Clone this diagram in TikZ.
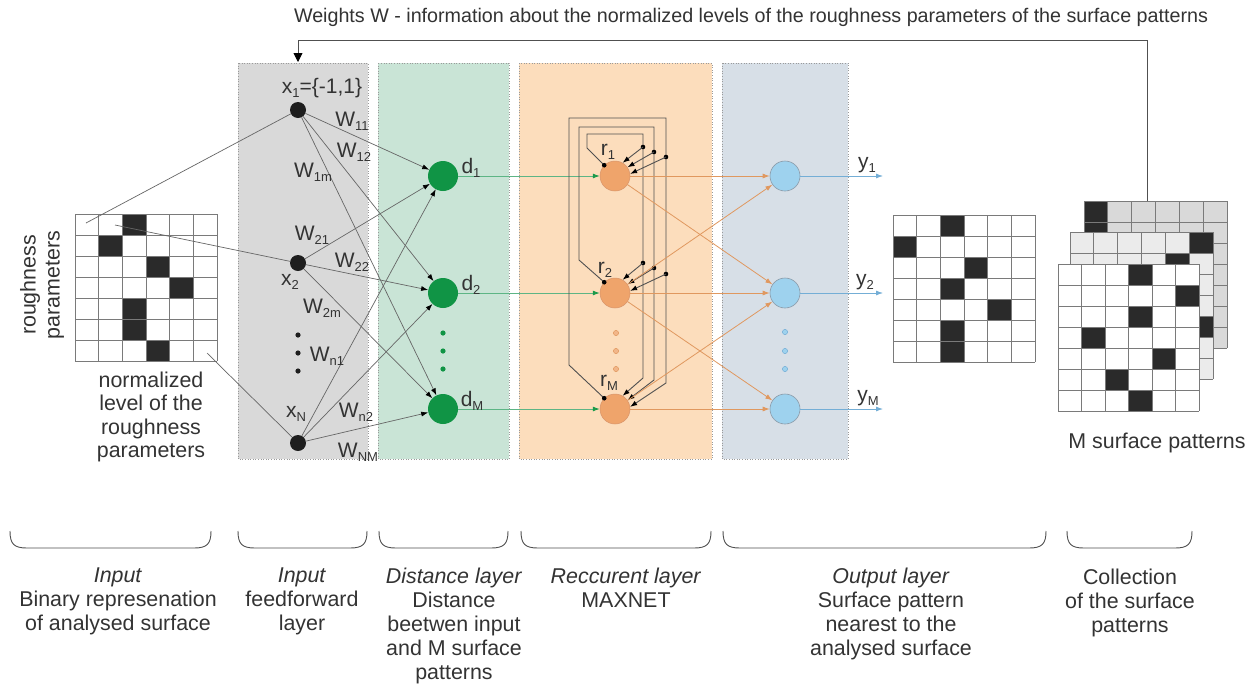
\documentclass[tikz,border=0pt]{standalone}
\usepackage{fontspec}
\setmainfont{Liberation Sans}
\usetikzlibrary{arrows.meta}

\definecolor{txtcol}{HTML}{333333}
\definecolor{graybox}{HTML}{D9D9D9}
\definecolor{greenbox}{HTML}{C9E4D6}
\definecolor{orangebox}{HTML}{FCDDBC}
\definecolor{bluebox}{HTML}{D7DFE7}
\definecolor{boxborder}{HTML}{9A9A9A}
\definecolor{xcol}{HTML}{1E1E1E}
\definecolor{dgreen}{HTML}{109445}
\definecolor{rorange}{HTML}{EFA46B}
\definecolor{rborder}{HTML}{D8946A}
\definecolor{oblue}{HTML}{9ED2EE}
\definecolor{oborder}{HTML}{8A9AA8}
\definecolor{wirecol}{HTML}{666666}
\definecolor{loopcol}{HTML}{505050}
\definecolor{glinecol}{HTML}{5DB585}
\definecolor{gtip}{HTML}{1A9A4A}
\definecolor{olinecol}{HTML}{E0985F}
\definecolor{blinecol}{HTML}{74AED6}
\definecolor{cellblack}{HTML}{2A2A2A}
\definecolor{gridcol}{HTML}{7A7A7A}
\definecolor{backgrid}{HTML}{D9D9D9}
\definecolor{midgrid}{HTML}{EBEBEB}

% small lowered index for labels such as W_11
\newcommand\lsub[1]{\raisebox{-0.35ex}{\fontsize{13}{13}\selectfont #1}}

% 6x7 pattern grid: #1 left, #2 top, #3 fill, #4 black cells (col/row), #5 cell width
\newcommand\patgrid[5]{%
  \fill[#3] (#1,#2) rectangle ++({6*#5},147);
  \foreach \cc/\rr in {#4}
    \fill[cellblack] ({#1+\cc*#5},{#2+\rr*21}) rectangle ++(#5,21);
  \foreach \ii in {0,...,6}
    \draw[gridline] ({#1+\ii*#5},#2) -- ++(0,147);
  \foreach \jj in {0,...,7}
    \draw[gridline] (#1,{#2+\jj*21}) -- ++({6*#5},0);
}

% rounded bracket under a group of layers
\newcommand\groupbrace[2]{%
  \draw[bracket] (#1,531) .. controls (#1,544) and ({#1+4},548) .. ({#1+17},548)
    -- ({#2-17},548) .. controls ({#2-4},548) and (#2,544) .. (#2,531);
}

\begin{document}
\begin{tikzpicture}[x=1pt,y=-1pt,
  txt/.style={text=txtcol, font=\fontsize{21.4}{24}\selectfont, inner sep=0pt},
  lbl/.style={text=txtcol, font=\fontsize{21}{24}\selectfont, inner sep=0pt},
  xnode/.style={circle, fill=xcol, minimum size=16pt, inner sep=0pt},
  dnode/.style={circle, fill=dgreen, minimum size=30pt, inner sep=0pt},
  rnode/.style={circle, fill=rorange, draw=rborder, line width=0.5pt, minimum size=30pt, inner sep=0pt},
  onode/.style={circle, fill=oblue, draw=oborder, line width=0.6pt, minimum size=30pt, inner sep=0pt},
  gridline/.style={draw=gridcol, line width=0.8pt},
  wire/.style={draw=wirecol, line width=0.7pt},
  warrow/.style={wire, -{Latex[length=7pt,width=5pt,color=black]}},
  loopline/.style={draw=loopcol, line width=0.9pt},
  looparrow/.style={loopline, -{Latex[length=7pt,width=5pt,color=black]}},
  gline/.style={draw=glinecol, line width=0.8pt, -{Latex[length=7pt,width=5pt,color=gtip]}},
  oline/.style={draw=olinecol, line width=0.8pt, -{Latex[length=7pt,width=5pt]}},
  bline/.style={draw=blinecol, line width=0.8pt, -{Latex[length=7pt,width=5pt]}},
  layerbox/.style={draw=boxborder, dotted, line width=0.6pt},
  bracket/.style={draw=loopcol, line width=0.9pt},
]
\useasboundingbox[fill=white] (0,0) rectangle (1253,686);

% layer backgrounds
\path[layerbox, fill=graybox]   (238,63) rectangle (368,459);
\path[layerbox, fill=greenbox]  (378,63) rectangle (509,459);
\path[layerbox, fill=orangebox] (519,63) rectangle (712,459);
\path[layerbox, fill=bluebox]   (722,63) rectangle (848,459);

% title and feedback of the weights
\node[txt, font=\fontsize{19.7}{24}\selectfont] (title) at (751,17) {Weights W - information about the normalized levels of the roughness parameters of the surface patterns};
\coordinate (fbstart) at (1147,201);
\coordinate (fbend) at (298,62);
\draw[loopline, -{Triangle[length=9pt,width=9pt,color=black]}] (fbstart) -- (1147,40) -| (fbend);

% analysed surface
\patgrid{75}{214}{white}{2/0,1/1,3/2,4/3,2/4,2/5,3/6}{23.67}
\node[txt, rotate=90, align=center] (rp) at (42,285) {roughness\\parameters};
\node[txt, align=center, font=\fontsize{21.4}{23.4}\selectfont] (nl) at (151,417) {normalized\\level of the\\roughness\\parameters};

% input neurons
\node[xnode] (x1) at (298,110) {};
\node[xnode] (x2) at (298,263) {};
\node[xnode] (xN) at (298,443) {};
\foreach \yy in {335,353,371} \fill[xcol] (298,\yy) circle (2.6);

\coordinate (g1) at (86,223);
\coordinate (g2) at (115,225);
\coordinate (g3) at (207,353);
\draw[wire] (g1) -- (x1);
\draw[wire] (g2) -- (x2);
\draw[wire] (g3) -- (xN);

% distance neurons
\node[dnode] (d1) at (443,176) {};
\node[dnode] (d2) at (443,293) {};
\node[dnode] (dM) at (443,409) {};
\foreach \yy in {333,351,369} \fill[dgreen] (443,\yy) circle (2.6);

\foreach \s in {x1,x2,xN}
  \foreach \t in {d1,d2,dM}
    \draw[warrow] (\s) -- (\t);

% MAXNET neurons
\node[rnode] (r1) at (615,176) {};
\node[rnode] (r2) at (615,293) {};
\node[rnode] (rM) at (615,409) {};
\foreach \yy in {333,351,369} \filldraw[fill=rorange!80, draw=olinecol, line width=0.5pt] (616,\yy) circle (2.6);

\draw[gline] (d1) -- (r1);
\draw[gline] (d2) -- (r2);
\draw[gline] (dM) -- (rM);

% lateral loops of the MAXNET
\draw[looparrow] (r1.135) -- (587,148) -- (587,134) -- (643,134) -- (643,378) -- (rM.60);
\draw[looparrow] (r2.135) -- (579,260) -- (579,127) -- (654,127) -- (654,380) -- (rM.35);
\draw[looparrow] (rM.135) -- (569,365) -- (569,118) -- (666,118) -- (666,383) -- (rM.8);
\foreach \n in {r1,r2,rM} \fill[black] (\n.135) circle (2.3);

\coordinate (j11) at (643,147);
\coordinate (j12) at (654,152);
\coordinate (j13) at (666,157);
\coordinate (j21) at (643,263);
\coordinate (j22) at (654,268);
\coordinate (j23) at (666,274);
\foreach \j/\n/\a in {j11/r1/60, j12/r1/35, j13/r1/8, j21/r2/60, j22/r2/35, j23/r2/8}{
  \fill[black] (\j) circle (2.3);
  \draw[looparrow] (\j) -- (\n.\a);
}

% output neurons
\node[onode] (o1) at (785,176) {};
\node[onode] (o2) at (785,293) {};
\node[onode] (oM) at (785,409) {};
\foreach \yy in {332,351,369} \filldraw[fill=oblue, draw=blinecol, line width=0.5pt] (785,\yy) circle (2.6);

\draw[oline] (r1) -- (o1);
\draw[oline] (r1) -- (o2);
\draw[oline] (r2) -- (o1);
\draw[oline] (r2) -- (o2);
\draw[oline] (r2) -- (oM);
\draw[oline] (rM) -- (o2);
\draw[oline] (rM) -- (oM);

\coordinate (y1e) at (883,176);
\coordinate (y2e) at (883,293);
\coordinate (yMe) at (883,409);
\draw[bline] (o1) -- (y1e);
\draw[bline] (o2) -- (y2e);
\draw[bline] (oM) -- (yMe);

% neuron and weight labels
\node[lbl] (lx1) at (322,88) {x\lsub{1}=\{-1,1\}};
\node[lbl] (lx2) at (290,282) {x\lsub{2}};
\node[lbl] (lxN) at (296,414) {x\lsub{N}};
\node[lbl] (w11) at (352,121) {W\lsub{11}};
\node[lbl] (w12) at (354,152) {W\lsub{12}};
\node[lbl] (w1m) at (313,172) {W\lsub{1m}};
\node[lbl] (w21) at (312,235) {W\lsub{21}};
\node[lbl] (w22) at (352,262) {W\lsub{22}};
\node[lbl] (w2m) at (322,308) {W\lsub{2m}};
\node[lbl] (wn1) at (327,356) {W\lsub{n1}};
\node[lbl] (wn2) at (356,412) {W\lsub{n2}};
\node[lbl] (wNM) at (358,452) {W\lsub{NM}};
\node[lbl] (ld1) at (471,168) {d\lsub{1}};
\node[lbl] (ld2) at (471,285) {d\lsub{2}};
\node[lbl] (ldM) at (472,401) {d\lsub{M}};
\node[lbl] (lr1) at (608,152) {r\lsub{1}};
\node[lbl] (lr2) at (605,270) {r\lsub{2}};
\node[lbl] (lrM) at (609,383) {r\lsub{M}};
\node[lbl] (ly1) at (867,165) {y\lsub{1}};
\node[lbl] (ly2) at (865,282) {y\lsub{2}};
\node[lbl] (lyM) at (868,398) {y\lsub{M}};

% nearest pattern
\patgrid{893}{215}{white}{2/0,0/1,3/2,2/3,4/4,2/5,2/6}{23.67}

% stack of surface patterns
\patgrid{1084}{201}{backgrid}{0/0,0/1}{23.83}
\patgrid{1070}{232}{midgrid}{5/0,4/1,5/4}{23.83}
\patgrid{1058}{264}{white}{3/0,5/1,3/2,1/3,4/4,2/5,3/6}{23.5}
\node[txt] (msp) at (1157,443) {M surface patterns};

% groups and their descriptions
\groupbrace{10}{211}
\groupbrace{238}{367}
\groupbrace{379}{508}
\groupbrace{521}{711}
\groupbrace{723}{1046}
\groupbrace{1067}{1192}

\node[txt, align=center, anchor=north] (t1) at (118,568) {\textit{Input}\\Binary represenation\\of analysed surface};
\node[txt, align=center, anchor=north] (t2) at (302,568) {\textit{Input}\\feedforward\\layer};
\node[txt, align=center, anchor=north] (t3) at (454,568) {\textit{Distance layer}\\Distance\\beetwen input\\and M surface\\patterns};
\node[txt, align=center, anchor=north] (t4) at (626,568) {\textit{Reccurent layer}\\MAXNET};
\node[txt, align=center, anchor=north] (t5) at (891,568) {\textit{Output layer}\\Surface pattern\\nearest to the\\analysed surface};
\node[txt, align=center, anchor=north] (t6) at (1130,569) {Collection\\of the surface\\patterns};
\end{tikzpicture}
\end{document}
